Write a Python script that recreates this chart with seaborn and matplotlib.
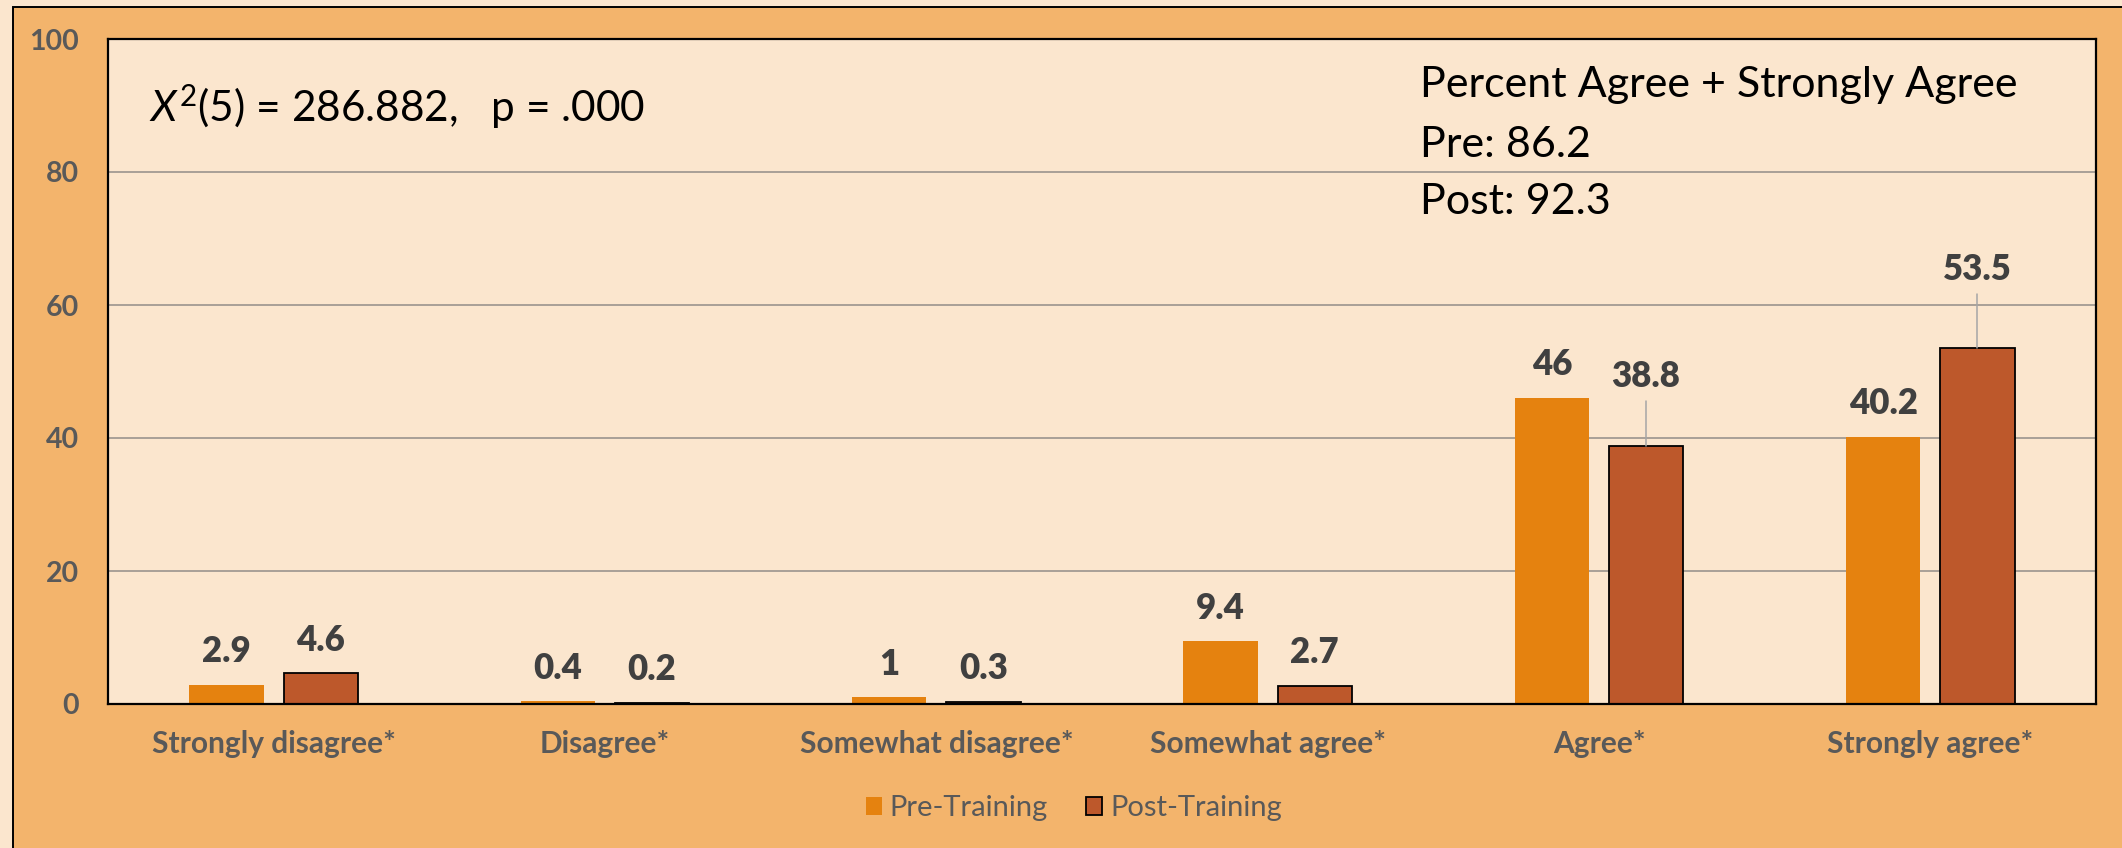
import matplotlib
matplotlib.use("Agg")
import matplotlib.pyplot as plt
import matplotlib.patches as mpatches
import seaborn as sns
import pandas as pd

# ---- data ----
categories = ["Strongly disagree*", "Disagree*", "Somewhat disagree*",
              "Somewhat agree*", "Agree*", "Strongly agree*"]
pre_values = [2.9, 0.4, 1, 9.4, 46, 40.2]
post_values = [4.6, 0.2, 0.3, 2.7, 38.8, 53.5]
series_names = ["Pre-Training", "Post-Training"]
y_ticks = [0, 20, 40, 60, 80, 100]
stat_text = r"$\mathit{X}^{2}$(5) = 286.882,   p = .000"
summary_lines = ["Percent Agree + Strongly Agree", "Pre: 86.2", "Post: 92.3"]

# ---- styles ----
PRE_COLOR = "#E5820F"
POST_COLOR = "#BD582B"
PLOT_BG = "#FBE6CE"
PANEL_BG = "#F3B46C"
GRID_COLOR = "#A8A097"
TICK_COLOR = "#595959"
LABEL_COLOR = "#404040"

sns.set_theme(style="white")
plt.rcParams["font.family"] = ["Lato", "DejaVu Sans"]
plt.rcParams["mathtext.fontset"] = "custom"
plt.rcParams["mathtext.rm"] = "Lato"
plt.rcParams["mathtext.it"] = "Lato:italic"

df = pd.DataFrame({
    "category": categories * 2,
    "value": pre_values + post_values,
    "period": [series_names[0]] * len(categories) + [series_names[1]] * len(categories),
})

fig = plt.figure(figsize=(21.22, 8.48), dpi=100)
fig.patch.set_facecolor(PLOT_BG)

# outer orange panel with black frame
panel = mpatches.Rectangle((13 / 2122, -0.05), 1.05, 1 - 7 / 848 + 0.05,
                           transform=fig.transFigure, facecolor=PANEL_BG,
                           edgecolor="black", linewidth=1.4, zorder=-10)
fig.patches.append(panel)

ax = fig.add_axes([108 / 2122, 1 - 704 / 848, (2096 - 108) / 2122, (704 - 39) / 848])
ax.set_zorder(1)
ax.set_facecolor(PLOT_BG)

sns.barplot(data=df, x="category", y="value", hue="period",
            palette=[PRE_COLOR, POST_COLOR], width=0.568, gap=0.211,
            ax=ax, legend=False, saturation=1, zorder=3)

# edges: pre bars none, post bars black
for p in ax.containers[0]:
    p.set_edgecolor("none")
    p.set_linewidth(0)
for p in ax.containers[1]:
    p.set_edgecolor("black")
    p.set_linewidth(1.3)

ax.set_xlim(-0.5, len(categories) - 0.5)
ax.set_ylim(0, 100)
ax.set_yticks(y_ticks)
ax.set_xlabel("")
ax.set_ylabel("")

for y in y_ticks[1:-1]:
    ax.axhline(y, color=GRID_COLOR, linewidth=1.4, zorder=1)

for s in ax.spines.values():
    s.set_visible(True)
    s.set_color("black")
    s.set_linewidth(1.6)
    s.set_zorder(5)

ax.tick_params(axis="y", length=0, pad=21, labelsize=20.5, labelcolor=TICK_COLOR)
ax.tick_params(axis="x", length=0, pad=19, labelsize=21.5, labelcolor=TICK_COLOR)
for lab in ax.get_yticklabels() + ax.get_xticklabels():
    lab.set_fontweight("bold")

# value labels
default_offset = 5.0
manual_offsets = {(1, 4): 10.5, (1, 5): 11.8}
for si, cont in enumerate(ax.containers):
    for ci, p in enumerate(cont):
        h = p.get_height()
        xc = p.get_x() + p.get_width() / 2
        off = manual_offsets.get((si, ci), default_offset)
        ax.text(xc, h + off, f"{h:g}", ha="center", va="center",
                fontsize=25, fontweight="heavy", color=LABEL_COLOR, zorder=6)
        if (si, ci) in manual_offsets:
            ax.plot([xc, xc], [h, h + off - 3.7], color="#A6A6A6",
                    linewidth=1.1, zorder=4)

# annotations
ax.text(0.0206, 0.899, stat_text, transform=ax.transAxes, ha="left",
        va="center", fontsize=30.5, color="black", zorder=6)
for line, yf in zip(summary_lines, [0.931, 0.841, 0.755]):
    ax.text(0.660, yf, line, transform=ax.transAxes, ha="left", va="center",
            fontsize=31, color="black", zorder=6)

# legend
handles = [mpatches.Patch(facecolor=PRE_COLOR, edgecolor="none"),
           mpatches.Patch(facecolor=POST_COLOR, edgecolor="black", linewidth=1.3)]
leg = fig.legend(handles, series_names, loc="center", bbox_to_anchor=(0.506, 0.047),
                 ncol=2, frameon=False, fontsize=21, handlelength=0.55,
                 handleheight=0.55, handletextpad=0.28, columnspacing=1.3)
for t in leg.get_texts():
    t.set_color(TICK_COLOR)

fig.savefig("out.png", dpi=100, facecolor=fig.get_facecolor())
